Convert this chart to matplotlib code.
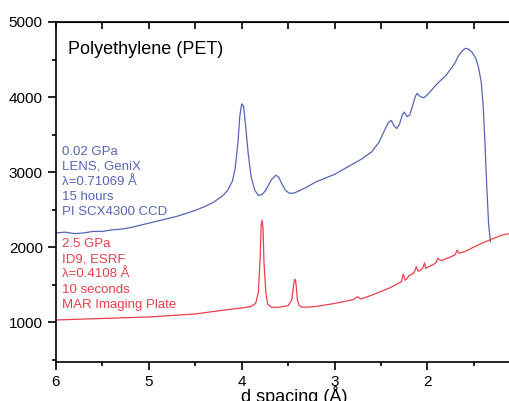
import numpy as np
import matplotlib.pyplot as plt
from matplotlib.ticker import MultipleLocator

plt.rcParams['font.family'] = ['Liberation Sans', 'DejaVu Sans']

# d spacing (A) and intensity
d_blue = [6.0, 5.9, 5.8, 5.7, 5.6, 5.5, 5.4, 5.3, 5.2, 5.1, 5.0, 4.9, 4.8, 4.7, 4.6,
          4.5, 4.4, 4.3, 4.2, 4.15, 4.1, 4.07, 4.04, 4.02, 4.0, 3.98, 3.96, 3.93,
          3.9, 3.86, 3.82, 3.78, 3.74, 3.68, 3.63, 3.6, 3.57, 3.53, 3.49, 3.44,
          3.4, 3.3, 3.2, 3.1, 3.0, 2.9, 2.8, 2.7, 2.6, 2.52, 2.46, 2.42, 2.39,
          2.36, 2.33, 2.3, 2.27, 2.25, 2.22, 2.19, 2.16, 2.13, 2.11, 2.08, 2.04,
          2.0, 1.95, 1.9, 1.85, 1.8, 1.75, 1.7, 1.66, 1.62, 1.59, 1.56, 1.52,
          1.48, 1.45, 1.42, 1.4, 1.38, 1.36, 1.34, 1.32]
i_blue = [2190, 2200, 2180, 2190, 2210, 2210, 2230, 2240, 2260, 2290, 2320, 2350, 2380, 2410, 2450,
          2490, 2540, 2600, 2690, 2760, 2880, 3050, 3400, 3750, 3910, 3880, 3650, 3250,
          2950, 2760, 2690, 2700, 2760, 2900, 2960, 2930, 2850, 2760, 2720, 2720,
          2740, 2800, 2870, 2920, 2970, 3040, 3110, 3180, 3270, 3400, 3560, 3660, 3690,
          3620, 3580, 3640, 3760, 3800, 3740, 3760, 3880, 4010, 4050, 4010, 3990,
          4030, 4100, 4170, 4230, 4290, 4370, 4460, 4560, 4620, 4650, 4640, 4600,
          4520, 4400, 4200, 3900, 3400, 2800, 2300, 2070]

d_red = [6.0, 5.5, 5.0, 4.5, 4.2, 4.0, 3.9, 3.85, 3.82, 3.8, 3.79, 3.78, 3.77,
         3.76, 3.74, 3.72, 3.68, 3.6, 3.5, 3.46, 3.44, 3.43, 3.42, 3.41, 3.4,
         3.38, 3.35, 3.3, 3.2, 3.0, 2.8, 2.75, 2.72, 2.69, 2.6, 2.4, 2.28, 2.26,
         2.24, 2.22, 2.2, 2.15, 2.13, 2.12, 2.1, 2.08, 2.05, 2.03, 2.02, 2.0,
         1.92, 1.9, 1.89, 1.85, 1.75, 1.7, 1.68, 1.66, 1.6, 1.5, 1.4, 1.3, 1.2, 1.12]
i_red = [1030, 1050, 1070, 1110, 1160, 1190, 1210, 1250, 1400, 1900, 2300, 2360, 2250,
         1800, 1400, 1240, 1200, 1200, 1220, 1300, 1500, 1570, 1560, 1450, 1300,
         1220, 1200, 1200, 1210, 1250, 1300, 1340, 1310, 1320, 1360, 1460, 1540, 1640,
         1560, 1580, 1620, 1650, 1700, 1740, 1680, 1690, 1720, 1790, 1720, 1730,
         1780, 1810, 1850, 1820, 1870, 1900, 1960, 1920, 1940, 2000, 2060, 2110, 2160, 2180]

blue_notes = ["0.02 GPa", "LENS, GeniX", "λ=0.71069 Å", "15 hours", "PI SCX4300 CCD"]
red_notes = ["2.5 GPa", "ID9, ESRF", "λ=0.4108 Å", "10 seconds", "MAR Imaging Plate"]

blue = '#5566b5'
red = '#e8404c'

W, H = 510, 401
fig = plt.figure(figsize=(W / 100, H / 100), dpi=100)
ax = fig.add_axes([56 / W, 1 - 362 / H, 1 - 56 / W, 340 / H])

ax.plot(d_blue, i_blue, color=blue, lw=0.9)
ax.plot(d_red, i_red, color=red, lw=0.9)

ax.set_xlim(6, 1.11)
ax.set_ylim(470, 5000)
ax.spines['right'].set_visible(False)
for s in ['left', 'bottom', 'top']:
    ax.spines[s].set_linewidth(1.2)

ax.xaxis.set_major_locator(MultipleLocator(1))
ax.xaxis.set_minor_locator(MultipleLocator(0.5))
ax.yaxis.set_major_locator(MultipleLocator(1000))
ax.yaxis.set_minor_locator(MultipleLocator(500))
ax.tick_params(axis='both', which='major', direction='out', length=6, width=1.2, labelsize=11)
ax.tick_params(axis='both', which='minor', direction='out', length=3, width=1.2)

# inward ticks along the top edge
top = ax.secondary_xaxis('top')
top.xaxis.set_major_locator(MultipleLocator(0.5))
top.tick_params(direction='in', length=5, width=1.2, labeltop=False)

# label sits low, partly cut by the bottom edge as in the original
ax.set_xlabel("d spacing (Å)", fontsize=13)
ax.xaxis.set_label_coords(0.524, -0.072, transform=ax.transAxes)
ax.xaxis.label.set_va('top')

fig.text(68 / W, 1 - 50 / H, "Polyethylene (PET)", fontsize=13, va='center')
for k, s in enumerate(blue_notes):
    fig.text(62 / W, 1 - (152 + 15 * k) / H, s, color=blue, fontsize=9.5, va='center')
for k, s in enumerate(red_notes):
    fig.text(62 / W, 1 - (244 + 15.2 * k) / H, s, color=red, fontsize=9.5, va='center')

fig.savefig("out.png", dpi=100)
